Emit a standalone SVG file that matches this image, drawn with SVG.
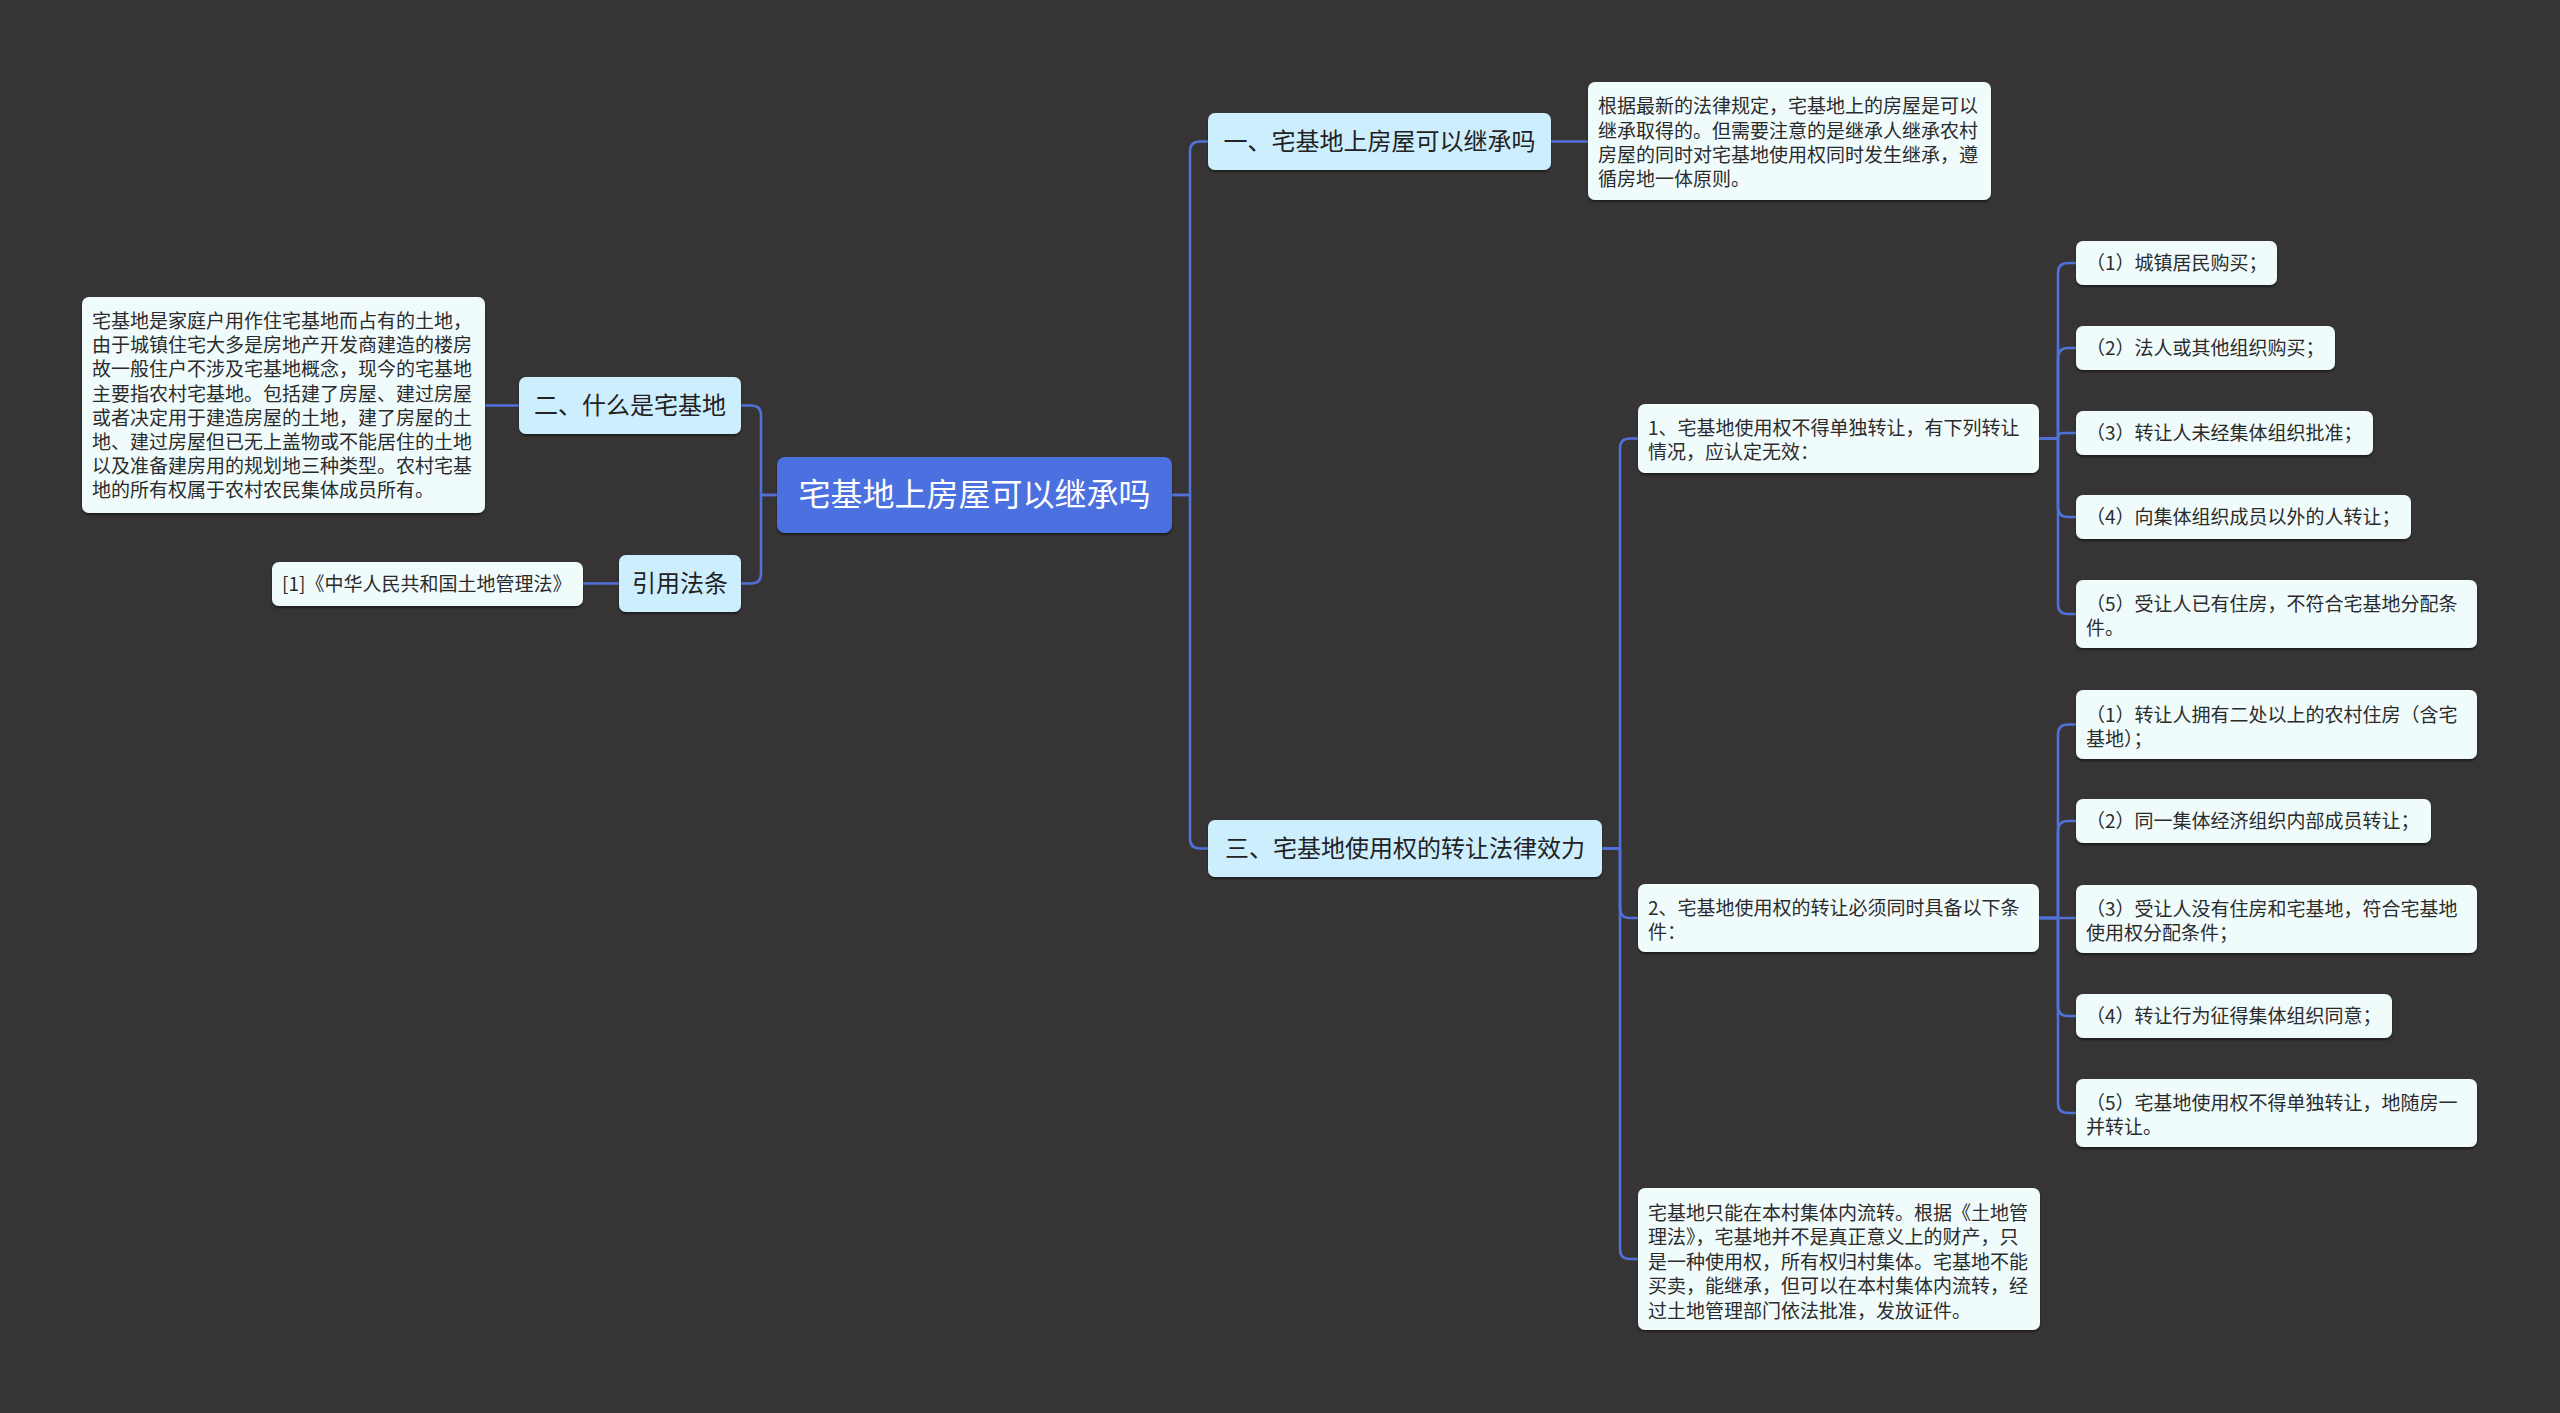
<svg xmlns="http://www.w3.org/2000/svg" width="2560" height="1413" viewBox="0 0 2560 1413">
<defs>
<style>
text{font-family:"Noto Sans CJK SC","Noto Sans",sans-serif;}
.root{fill:#4b6fe0;}
.l1{fill:#cdeefd;}
.leaf{fill:#f0fbfc;}
.tr{font-size:32px;fill:#ffffff;text-anchor:middle;dominant-baseline:central;}
.t1{font-size:24px;fill:#222222;text-anchor:middle;dominant-baseline:central;}
.t2{font-size:19px;fill:#2b2b2b;dominant-baseline:central;}
.conn path{fill:none;stroke:#5171d8;stroke-width:2.6;stroke-linecap:round;stroke-linejoin:round;}
</style>
<filter id="sh" x="-5%" y="-10%" width="110%" height="130%">
<feDropShadow dx="0" dy="2" stdDeviation="1.2" flood-color="#000000" flood-opacity="0.45"/>
</filter>
</defs>
<rect x="0" y="0" width="2560" height="1413" fill="#363435"/>

<g id="connectors" class="conn">
<path d="M1172,495 H1190 V151.5 Q1190,141.5 1200,141.5 H1208"/>
<path d="M1172,495 H1190 V838.5 Q1190,848.5 1200,848.5 H1208"/>
<path d="M777,495 H761 V415.5 Q761,405.5 751,405.5 H741"/>
<path d="M777,495 H761 V573.5 Q761,583.5 751,583.5 H741"/>
<path d="M519,405.5 H485"/>
<path d="M619,583.5 H583"/>
<path d="M1551,141.5 H1588"/>
<path d="M1602,848.5 H1620 V448.5 Q1620,438.5 1630,438.5 H1638"/>
<path d="M1602,848.5 H1620 V908 Q1620,918 1630,918 H1638"/>
<path d="M1602,848.5 H1620 V1249 Q1620,1259 1630,1259 H1638"/>
<path d="M2039,438.5 H2058 V273 Q2058,263 2068,263 H2076"/>
<path d="M2039,438.5 H2058 V358 Q2058,348 2068,348 H2076"/>
<path d="M2039,438.5 H2058 V437 Q2058,433 2063,433 H2076"/>
<path d="M2039,438.5 H2058 V507 Q2058,517 2068,517 H2076"/>
<path d="M2039,438.5 H2058 V604 Q2058,614 2068,614 H2076"/>
<path d="M2039,918 H2058 V734.5 Q2058,724.5 2068,724.5 H2076"/>
<path d="M2039,918 H2058 V831 Q2058,821 2068,821 H2076"/>
<path d="M2039,918 H2076"/>
<path d="M2039,918 H2058 V1006 Q2058,1016 2068,1016 H2076"/>
<path d="M2039,918 H2058 V1103 Q2058,1113 2068,1113 H2076"/>
</g>

<g id="root">
<rect class="root" x="777" y="457" width="395" height="76" rx="8" filter="url(#sh)"/>
<text class="tr" x="974.5" y="492">宅基地上房屋可以继承吗</text>
</g>

<g id="n-what">
<rect class="l1" x="519" y="377" width="222" height="57" rx="7" filter="url(#sh)"/>
<text class="t1" x="630" y="403.5">二、什么是宅基地</text>
</g>
<g id="n-what-text">
<rect class="leaf" x="82" y="297" width="403" height="216" rx="7" filter="url(#sh)"/>
<text class="t2" x="92" y="319.5">宅基地是家庭户用作住宅基地而占有的土地，</text>
<text class="t2" x="92" y="343.7">由于城镇住宅大多是房地产开发商建造的楼房</text>
<text class="t2" x="92" y="367.9">故一般住户不涉及宅基地概念，现今的宅基地</text>
<text class="t2" x="92" y="392.1">主要指农村宅基地。包括建了房屋、建过房屋</text>
<text class="t2" x="92" y="416.3">或者决定用于建造房屋的土地，建了房屋的土</text>
<text class="t2" x="92" y="440.5">地、建过房屋但已无上盖物或不能居住的土地</text>
<text class="t2" x="92" y="464.7">以及准备建房用的规划地三种类型。农村宅基</text>
<text class="t2" x="92" y="488.9">地的所有权属于农村农民集体成员所有。</text>
</g>

<g id="n-cite">
<rect class="l1" x="619" y="555" width="122" height="57" rx="7" filter="url(#sh)"/>
<text class="t1" x="680" y="581.5">引用法条</text>
</g>
<g id="n-cite-text">
<rect class="leaf" x="272" y="562" width="311" height="44" rx="7" filter="url(#sh)"/>
<text class="t2" x="282" y="582">[1]《中华人民共和国土地管理法》</text>
</g>

<g id="n-inherit">
<rect class="l1" x="1208" y="113" width="343" height="57" rx="7" filter="url(#sh)"/>
<text class="t1" x="1379.5" y="139.5">一、宅基地上房屋可以继承吗</text>
</g>
<g id="n-inherit-text">
<rect class="leaf" x="1588" y="82" width="403" height="118" rx="7" filter="url(#sh)"/>
<text class="t2" x="1598" y="104.8">根据最新的法律规定，宅基地上的房屋是可以</text>
<text class="t2" x="1598" y="129.1">继承取得的。但需要注意的是继承人继承农村</text>
<text class="t2" x="1598" y="153.4">房屋的同时对宅基地使用权同时发生继承，遵</text>
<text class="t2" x="1598" y="177.7">循房地一体原则。</text>
</g>

<g id="n-transfer">
<rect class="l1" x="1208" y="820" width="394" height="57" rx="7" filter="url(#sh)"/>
<text class="t1" x="1405" y="846.5">三、宅基地使用权的转让法律效力</text>
</g>

<g id="n-t1">
<rect class="leaf" x="1638" y="404" width="401" height="69" rx="7" filter="url(#sh)"/>
<text class="t2" x="1648" y="426">1、宅基地使用权不得单独转让，有下列转让</text>
<text class="t2" x="1648" y="450.5">情况，应认定无效：</text>
</g>
<g id="n-t2">
<rect class="leaf" x="1638" y="884" width="401" height="68" rx="7" filter="url(#sh)"/>
<text class="t2" x="1648" y="906">2、宅基地使用权的转让必须同时具备以下条</text>
<text class="t2" x="1648" y="930.5">件：</text>
</g>
<g id="n-t3">
<rect class="leaf" x="1638" y="1188" width="402" height="142" rx="7" filter="url(#sh)"/>
<text class="t2" x="1648" y="1211">宅基地只能在本村集体内流转。根据《土地管</text>
<text class="t2" x="1648" y="1235.5">理法》，宅基地并不是真正意义上的财产，只</text>
<text class="t2" x="1648" y="1260">是一种使用权，所有权归村集体。宅基地不能</text>
<text class="t2" x="1648" y="1284.5">买卖，能继承，但可以在本村集体内流转，经</text>
<text class="t2" x="1648" y="1309">过土地管理部门依法批准，发放证件。</text>
</g>

<g id="n-a1">
<rect class="leaf" x="2076" y="241" width="201" height="44" rx="7" filter="url(#sh)"/>
<text class="t2" x="2086" y="261">（1）城镇居民购买；</text>
</g>
<g id="n-a2">
<rect class="leaf" x="2076" y="326" width="259" height="44" rx="7" filter="url(#sh)"/>
<text class="t2" x="2086" y="346">（2）法人或其他组织购买；</text>
</g>
<g id="n-a3">
<rect class="leaf" x="2076" y="411" width="297" height="44" rx="7" filter="url(#sh)"/>
<text class="t2" x="2086" y="431">（3）转让人未经集体组织批准；</text>
</g>
<g id="n-a4">
<rect class="leaf" x="2076" y="495" width="335" height="44" rx="7" filter="url(#sh)"/>
<text class="t2" x="2086" y="515">（4）向集体组织成员以外的人转让；</text>
</g>
<g id="n-a5">
<rect class="leaf" x="2076" y="580" width="401" height="68" rx="7" filter="url(#sh)"/>
<text class="t2" x="2086" y="602">（5）受让人已有住房，不符合宅基地分配条</text>
<text class="t2" x="2086" y="626.5">件。</text>
</g>

<g id="n-b1">
<rect class="leaf" x="2076" y="690" width="401" height="69" rx="7" filter="url(#sh)"/>
<text class="t2" x="2086" y="713">（1）转让人拥有二处以上的农村住房（含宅</text>
<text class="t2" x="2086" y="737.5">基地）；</text>
</g>
<g id="n-b2">
<rect class="leaf" x="2076" y="799" width="355" height="44" rx="7" filter="url(#sh)"/>
<text class="t2" x="2086" y="819">（2）同一集体经济组织内部成员转让；</text>
</g>
<g id="n-b3">
<rect class="leaf" x="2076" y="885" width="401" height="68" rx="7" filter="url(#sh)"/>
<text class="t2" x="2086" y="907">（3）受让人没有住房和宅基地，符合宅基地</text>
<text class="t2" x="2086" y="931.5">使用权分配条件；</text>
</g>
<g id="n-b4">
<rect class="leaf" x="2076" y="994" width="316" height="44" rx="7" filter="url(#sh)"/>
<text class="t2" x="2086" y="1014">（4）转让行为征得集体组织同意；</text>
</g>
<g id="n-b5">
<rect class="leaf" x="2076" y="1079" width="401" height="68" rx="7" filter="url(#sh)"/>
<text class="t2" x="2086" y="1101">（5）宅基地使用权不得单独转让，地随房一</text>
<text class="t2" x="2086" y="1125.5">并转让。</text>
</g>
</svg>
